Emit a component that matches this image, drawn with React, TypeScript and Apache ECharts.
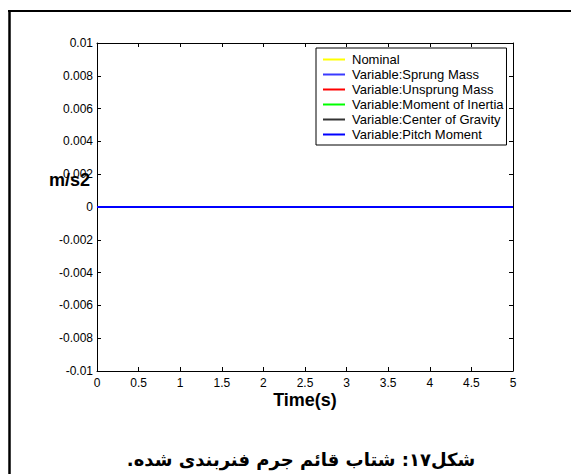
import React, { useEffect, useRef } from "react";
import * as echarts from "echarts";

const timeS = [0, 1, 2, 3, 4, 5];
const nominal = [0, 0, 0, 0, 0, 0];
const sprungMass = [0, 0, 0, 0, 0, 0];
const unsprungMass = [0, 0, 0, 0, 0, 0];
const momentOfInertia = [0, 0, 0, 0, 0, 0];
const centerOfGravity = [0, 0, 0, 0, 0, 0];
const pitchMoment = [0, 0, 0, 0, 0, 0];

const seriesNames = [
  "Nominal",
  "Variable:Sprung Mass",
  "Variable:Unsprung Mass",
  "Variable:Moment of Inertia",
  "Variable:Center of Gravity",
  "Variable:Pitch Moment",
];
const seriesValues = [nominal, sprungMass, unsprungMass, momentOfInertia, centerOfGravity, pitchMoment];
const seriesColors = ["#ffff00", "#3a3aff", "#ff0000", "#00ff00", "#333333", "#0000ff"];

const caption = "\u200Fشکل۱۷: شتاب قائم جرم فنربندی شده.\u200F";
const FONT = "'Liberation Sans', Arial, sans-serif";

export default function App() {
  const ref = useRef<HTMLDivElement>(null);
  useEffect(() => {
    document.body.style.margin = "0";
    const chart = echarts.init(ref.current!, null, { renderer: "svg" });
    const tickCommon = {
      axisLine: { show: true, onZero: false, lineStyle: { color: "#000", width: 1 } },
      axisTick: { show: true, inside: true, length: 4, lineStyle: { color: "#000" } },
      splitLine: { show: false },
    };
    chart.setOption({
      animation: false,
      backgroundColor: "#fff",
      textStyle: { fontFamily: FONT },
      title: {
        text: caption,
        left: 296,
        textAlign: "center",
        top: 445,
        textStyle: { fontFamily: "'DejaVu Sans', sans-serif", fontWeight: "bold", fontSize: 18, color: "#000" },
      },
      graphic: [
        { type: "line", shape: { x1: 9.5, y1: 10, x2: 9.5, y2: 474 }, style: { stroke: "#000", lineWidth: 2.5 } },
        { type: "line", shape: { x1: 8, y1: 11, x2: 571, y2: 11 }, style: { stroke: "#000", lineWidth: 2 } },
      ],
      grid: { left: 97, right: 58, top: 43, bottom: 103, containLabel: false },
      legend: {
        data: seriesNames,
        orient: "vertical",
        left: 316,
        top: 48,
        padding: [4, 3, 3, 7],
        itemGap: 0,
        itemWidth: 22,
        itemHeight: 2,
        icon: "rect",
        borderColor: "#000",
        borderWidth: 1,
        backgroundColor: "#fff",
        borderRadius: 0,
        textStyle: { fontFamily: FONT, fontSize: 13, color: "#000", lineHeight: 15, padding: [0, 0, 0, 2] },
      },
      xAxis: [
        {
          type: "value",
          min: 0,
          max: 5,
          interval: 0.5,
          position: "bottom",
          name: "Time(s)",
          nameLocation: "middle",
          nameGap: 20,
          nameMoveOverlap: false,
          nameTextStyle: { fontFamily: FONT, fontWeight: "bold", fontSize: 18, color: "#000" },
          axisLabel: { color: "#000", fontSize: 12, margin: 6, fontFamily: FONT },
          ...tickCommon,
        },
        {
          type: "value",
          min: 0,
          max: 5,
          interval: 0.5,
          position: "top",
          axisLabel: { show: false },
          ...tickCommon,
        },
      ],
      yAxis: [
        {
          type: "value",
          min: -0.01,
          max: 0.01,
          interval: 0.002,
          position: "left",
          name: "m/s2",
          nameLocation: "middle",
          nameRotate: 0,
          nameGap: 7,
          nameMoveOverlap: false,
          nameTextStyle: {
            fontFamily: FONT,
            fontWeight: "bold",
            fontSize: 18,
            color: "#000",
            align: "right",
            verticalAlign: "bottom",
            padding: [0, 0, 18, 0],
          },
          axisLabel: {
            color: "#000",
            fontSize: 12,
            margin: 4,
            fontFamily: FONT,
            formatter: (v: number) => String(parseFloat(v.toFixed(3))),
          },
          ...tickCommon,
        },
        {
          type: "value",
          min: -0.01,
          max: 0.01,
          interval: 0.002,
          position: "right",
          axisLabel: { show: false },
          ...tickCommon,
        },
      ],
      series: seriesNames.map((name, i) => ({
        name,
        type: "line",
        xAxisIndex: 0,
        yAxisIndex: 0,
        showSymbol: false,
        symbol: "none",
        color: seriesColors[i],
        lineStyle: { color: seriesColors[i], width: i === seriesNames.length - 1 ? 2 : 1 },
        data: timeS.map((t, j) => [t, seriesValues[i][j]]),
      })),
    });
    return () => chart.dispose();
  }, []);
  return <div ref={ref} style={{ width: 571, height: 474 }} />;
}
